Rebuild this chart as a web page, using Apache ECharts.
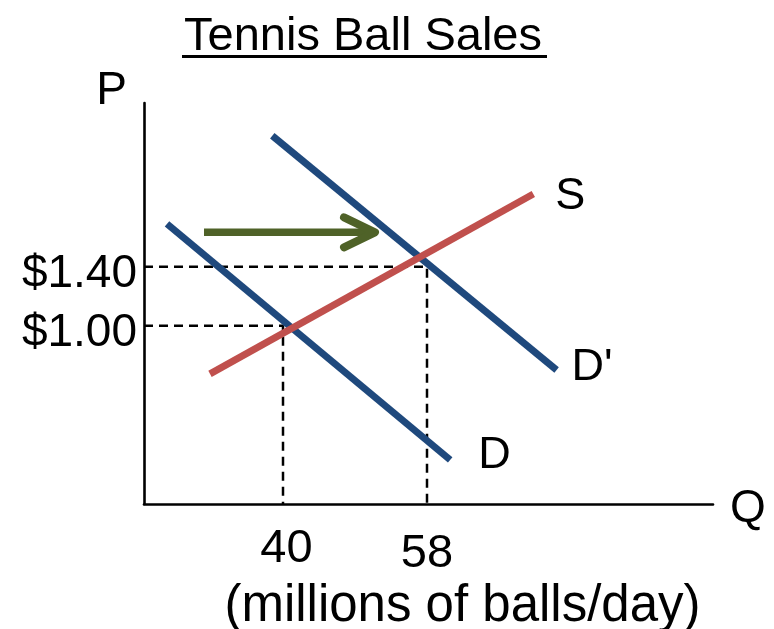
<!DOCTYPE html>
<html>
<head>
<meta charset="utf-8">
<script src="https://cdn.jsdelivr.net/npm/echarts@6/dist/echarts.min.js"></script>
<style>
html,body{margin:0;padding:0;background:#fff;}
#chart{width:774px;height:629px;}
</style>
</head>
<body>
<div id="chart"></div>
<script>
// ---- data ----
const titleText = 'Tennis Ball Sales';
const unitText = '(millions of balls/day)';
const xTickValues = [40, 58];
const yTickValues = [1.00, 1.40];
const demandD = [[25.5, 1.69], [60.9, 0.09]];
const demandD2 = [[38.66, 2.288], [74.2, 0.70]];
const supplyS = [[30.875, 0.673], [71.29, 1.893]];
const shiftArrow = [[30.125, 1.633, 51.5, 1.633]];
const eqOld = [40, 1.00];
const eqNew = [58, 1.40];

// ---- layout ----
const X_MIN = 22.625, X_MAX = 93.75;
const Y_MIN = -0.2088, Y_MAX = 2.5098;
const FONT = '"Liberation Sans", Arial, sans-serif';
const BLUE = '#1F497D', RED = '#C0504D', GREEN = '#4F6228';

function guide(eq) {
  return [[X_MIN, eq[1]], [eq[0], eq[1]], [eq[0], Y_MIN]];
}

const chart = echarts.init(document.getElementById('chart'), null, {renderer: 'canvas'});

const option = {
  animation: false,
  backgroundColor: '#fff',
  grid: {left: 144, right: 61, top: 103, bottom: 125, containLabel: false},
  xAxis: {
    type: 'value', min: X_MIN, max: X_MAX,
    name: '{q|Q}', nameLocation: 'end', nameGap: 17,
    nameTextStyle: {
      fontFamily: FONT, fontSize: 46, color: '#000', align: 'left', verticalAlign: 'middle',
      rich: {q: {fontFamily: FONT, fontSize: 46, color: '#000', padding: [10, 0, 0, 0]}}
    },
    axisLine: {show: true, onZero: false, lineStyle: {color: '#000', width: 2.6}},
    axisTick: {show: false},
    splitLine: {show: false},
    axisLabel: {
      customValues: xTickValues,
      margin: 22,
      fontFamily: FONT, fontSize: 47, color: '#000',
      formatter: function (v) { return v === 58 ? '{low|' + v + '}' : '{n|' + v + '}'; },
      rich: {
        n: {fontFamily: FONT, fontSize: 47, color: '#000', padding: [0, 0, 0, 7]},
        low: {fontFamily: FONT, fontSize: 47, color: '#000', padding: [5, 0, 0, 0]}
      }
    }
  },
  yAxis: {
    type: 'value', min: Y_MIN, max: Y_MAX,
    name: 'P', nameLocation: 'end', nameGap: 12,
    nameTextStyle: {fontFamily: FONT, fontSize: 46, color: '#000', align: 'right', verticalAlign: 'middle', padding: [0, 17, 0, 0]},
    axisLine: {show: true, onZero: false, lineStyle: {color: '#000', width: 2.6}},
    axisTick: {show: false},
    splitLine: {show: false},
    axisLabel: {
      customValues: yTickValues,
      margin: 7,
      fontFamily: FONT, fontSize: 46, color: '#000',
      formatter: function (v) { return '{p|$' + v.toFixed(2) + '}'; },
      rich: {p: {fontFamily: FONT, fontSize: 46, color: '#000', padding: [16, 0, 0, 0]}}
    }
  },
  graphic: [
    {type: 'text', z: 10, style: {text: titleText, x: 363, y: 37, align: 'center', verticalAlign: 'middle', font: '47px ' + FONT, fill: '#000'}},
    {type: 'rect', z: 10, shape: {x: 182, y: 55, width: 365, height: 3}, style: {fill: '#000'}},
    {type: 'text', z: 10, style: {text: unitText, x: 462.5, y: 607, align: 'center', verticalAlign: 'middle', font: '51px ' + FONT, fill: '#000'}}
  ],
  series: [
    {
      name: 'guideNew', type: 'line', data: guide(eqNew), showSymbol: false, silent: true, z: 1,
      lineStyle: {color: '#000', width: 2.5, type: [9, 6]}
    },
    {
      name: 'guideOld', type: 'line', data: guide(eqOld), showSymbol: false, silent: true, z: 1,
      lineStyle: {color: '#000', width: 2.5, type: [9, 6]}
    },
    {
      name: 'D', type: 'line', data: demandD, showSymbol: false, z: 2,
      lineStyle: {color: BLUE, width: 7, cap: 'butt'},
      endLabel: {show: true, formatter: '{a}', distance: 28, offset: [0, -4], fontFamily: FONT, fontSize: 45, color: '#000'}
    },
    {
      name: "D'", type: 'line', data: demandD2, showSymbol: false, z: 2,
      lineStyle: {color: BLUE, width: 7, cap: 'butt'},
      endLabel: {show: true, formatter: '{a}', distance: 15, offset: [0, -2], fontFamily: FONT, fontSize: 45, color: '#000'}
    },
    {
      name: 'S', type: 'line', data: supplyS, showSymbol: false, z: 3,
      lineStyle: {color: RED, width: 7, cap: 'butt'},
      endLabel: {show: true, formatter: '{a}', distance: 22, offset: [0, 3], fontFamily: FONT, fontSize: 45, color: '#000'}
    },
    {
      name: 'shift', type: 'custom', z: 4,
      data: shiftArrow,
      encode: {x: [0, 2], y: [1, 3]},
      renderItem: function (params, api) {
        const p0 = api.coord([api.value(0), api.value(1)]);
        const p1 = api.coord([api.value(2), api.value(3)]);
        return {
          type: 'group',
          children: [
            {type: 'line', shape: {x1: p0[0], y1: p0[1], x2: p1[0] - 4, y2: p1[1]},
             style: {stroke: GREEN, lineWidth: 7.5, lineCap: 'butt'}},
            {type: 'polyline', shape: {points: [[p1[0] - 31, p1[1] - 15], [p1[0], p1[1]], [p1[0] - 31, p1[1] + 15]]},
             style: {stroke: GREEN, lineWidth: 8, lineCap: 'round', lineJoin: 'round', fill: null}}
          ]
        };
      }
    }
  ]
};
chart.setOption(option);
</script>
</body>
</html>
